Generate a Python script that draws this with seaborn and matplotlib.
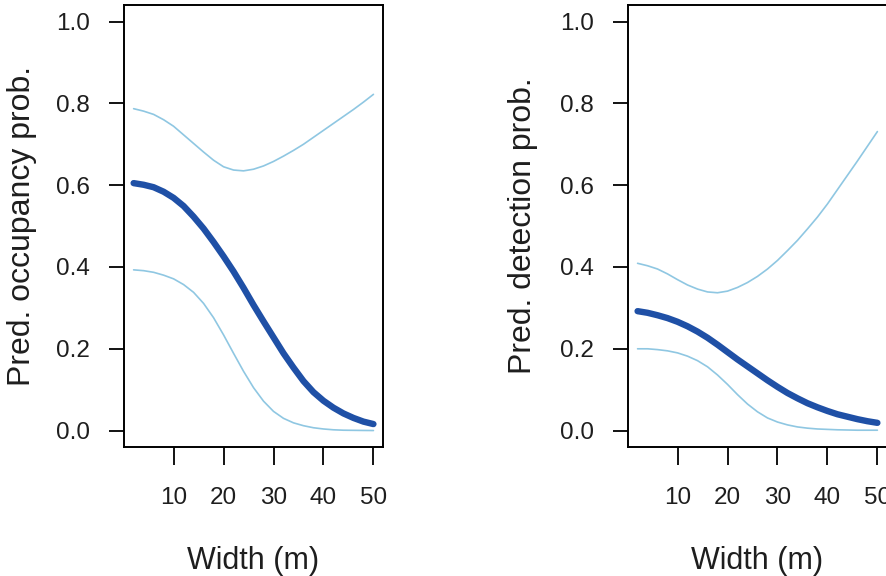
import numpy as np
import pandas as pd
import matplotlib
matplotlib.use("Agg")
import matplotlib.pyplot as plt
import seaborn as sns

# Stream width covariate (m)
width = [2, 4, 6, 8, 10, 12, 14, 16, 18, 20, 22, 24, 26,
         28, 30, 32, 34, 36, 38, 40, 42, 44, 46, 48, 50]

# Occupancy: prediction with lower / upper confidence limits
occ_pred = [0.605, 0.601, 0.595, 0.584, 0.569, 0.549, 0.523, 0.494, 0.461, 0.426,
            0.389, 0.349, 0.307, 0.267, 0.228, 0.189, 0.154, 0.121, 0.094, 0.073,
            0.056, 0.042, 0.031, 0.022, 0.016]
occ_upper = [0.787, 0.781, 0.773, 0.760, 0.744, 0.723, 0.702, 0.681, 0.661, 0.645,
             0.637, 0.635, 0.639, 0.647, 0.658, 0.671, 0.685, 0.700, 0.717, 0.734,
             0.751, 0.768, 0.785, 0.803, 0.822]
occ_lower = [0.393, 0.391, 0.387, 0.380, 0.371, 0.357, 0.338, 0.311, 0.276, 0.234,
             0.189, 0.145, 0.105, 0.072, 0.047, 0.030, 0.019, 0.012, 0.007, 0.004,
             0.002, 0.001, 0.0007, 0.0004, 0.0002]

# Detection: prediction with lower / upper confidence limits
det_pred = [0.292, 0.288, 0.282, 0.275, 0.266, 0.255, 0.242, 0.227, 0.210, 0.192,
            0.174, 0.157, 0.140, 0.123, 0.107, 0.092, 0.079, 0.067, 0.057, 0.048,
            0.040, 0.034, 0.028, 0.023, 0.019]
det_upper = [0.409, 0.403, 0.395, 0.383, 0.369, 0.356, 0.346, 0.339, 0.337, 0.341,
             0.350, 0.362, 0.377, 0.395, 0.416, 0.440, 0.465, 0.493, 0.522, 0.554,
             0.589, 0.624, 0.659, 0.695, 0.731]
det_lower = [0.200, 0.200, 0.198, 0.195, 0.190, 0.182, 0.171, 0.156, 0.136, 0.113,
             0.088, 0.065, 0.046, 0.031, 0.021, 0.014, 0.009, 0.006, 0.004, 0.003,
             0.002, 0.0015, 0.001, 0.001, 0.001]

x_ticks = [10, 20, 30, 40, 50]
y_ticks = [0.0, 0.2, 0.4, 0.6, 0.8, 1.0]
y_tick_labels = ["0.0", "0.2", "0.4", "0.6", "0.8", "1.0"]

sns.set_style("ticks")
plt.rcParams["font.family"] = ["Liberation Sans", "DejaVu Sans"]

DARK = "#1f50a6"
LIGHT = "#8fc7e2"
INK = "#1e1e1e"

fig = plt.figure(figsize=(8.86, 5.76), dpi=100)
ax_left = fig.add_axes([0.140, 0.224, 0.2923, 0.767])
ax_right = fig.add_axes([0.7088, 0.224, 0.2923, 0.767])

panels = [
    (ax_left, occ_pred, occ_lower, occ_upper, "Pred. occupancy prob.", -0.394),
    (ax_right, det_pred, det_lower, det_upper, "Pred. detection prob.", -0.407),
]

for ax, pred, lower, upper, ylab, ylab_x in panels:
    df = pd.DataFrame({"width": width, "pred": pred, "lower": lower, "upper": upper})
    sns.lineplot(data=df, x="width", y="upper", ax=ax, color=LIGHT, lw=1.2)
    sns.lineplot(data=df, x="width", y="lower", ax=ax, color=LIGHT, lw=1.2)
    sns.lineplot(data=df, x="width", y="pred", ax=ax, color=DARK, lw=4.6,
                 solid_capstyle="round", solid_joinstyle="round")

    ax.set_xlim(0.08, 51.92)
    ax.set_ylim(-0.04, 1.04)
    ax.set_xticks(x_ticks)
    ax.set_xticklabels([str(t) for t in x_ticks])
    ax.set_yticks(y_ticks)
    ax.set_yticklabels(y_tick_labels)

    for sp in ax.spines.values():
        sp.set_visible(True)
        sp.set_linewidth(1.4)
        sp.set_color("black")

    ax.tick_params(axis="x", length=13, width=1.3, pad=16, labelsize=17.5,
                   colors="black", labelcolor=INK)
    ax.tick_params(axis="y", length=10.8, width=1.3, pad=14, labelsize=17.5,
                   colors="black", labelcolor=INK)

    ax.set_xlabel("Width (m)", fontsize=22, color=INK)
    ax.set_ylabel(ylab, fontsize=23, color=INK)
    ax.xaxis.set_label_coords(0.5, -0.258)
    ax.xaxis.label.set_verticalalignment("center")
    ax.yaxis.set_label_coords(ylab_x, 0.5)
    ax.yaxis.label.set_verticalalignment("center")

fig.savefig("out.png", dpi=100)
